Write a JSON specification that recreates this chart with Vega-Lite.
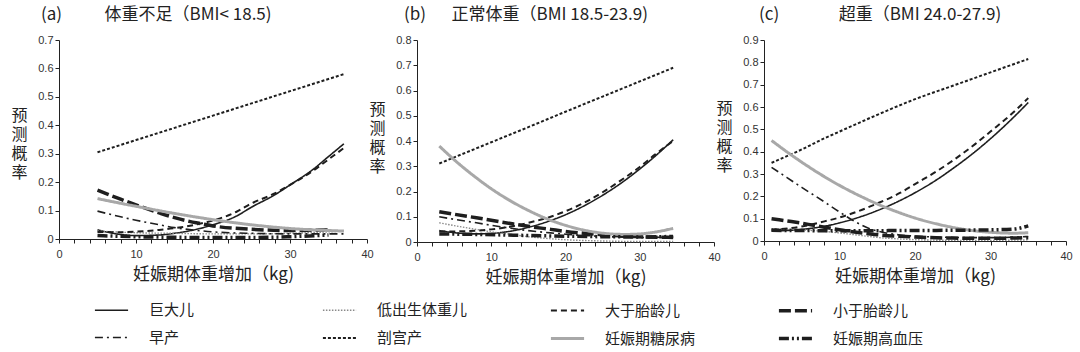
{
  "$schema": "https://vega.github.io/schema/vega-lite/v6.json",
  "padding": {"left": 10, "top": 6, "right": 5, "bottom": 0},
  "autosize": {"type": "pad"},
  "background": "white",
  "spacing": 50,
  "bounds": "flush",
  "config": {
    "view": {"stroke": null},
    "font": "Noto Sans CJK SC",
    "axis": {
      "domainColor": "#222", "tickColor": "#222", "tickSize": 4, "grid": false,
      "labelFont": "Liberation Sans", "labelFontSize": 11, "labelColor": "#333",
      "titleFont": "Noto Sans CJK SC", "titleFontSize": 17, "titleFontWeight": "normal", "titleColor": "#222",
      "labelFlush": false, "labelOverlap": false
    },
    "axisX": {"labelPadding": 5, "titlePadding": 7},
    "axisY": {"titleFont": "Liberation Sans, Noto Sans CJK SC", "titleFontSize": 16, "titleLineHeight": 19},
    "title": {"font": "Noto Sans CJK SC", "fontSize": 17, "fontWeight": "normal", "color": "#222", "anchor": "start", "frame": "group", "offset": 10},
    "legend": {
      "orient": "none", "legendX": 34, "legendY": 252, "columns": 4, "direction": "horizontal",
      "symbolType": "stroke", "symbolSize": 1100, "gridAlign": "all", "columnPadding": 75, "rowPadding": 1,
      "labelFont": "Noto Sans CJK SC", "labelFontSize": 15, "labelColor": "#222", "labelOffset": 19, "padding": 0, "labelLimit": 200
    }
  },
  "datasets": {
    "d": [
      {"p":"a","s":"巨大儿","x":5,"y":0.032},{"p":"a","s":"巨大儿","x":8,"y":0.016},{"p":"a","s":"巨大儿","x":10,"y":0.012},{"p":"a","s":"巨大儿","x":13,"y":0.014},{"p":"a","s":"巨大儿","x":15,"y":0.02},{"p":"a","s":"巨大儿","x":18,"y":0.035},{"p":"a","s":"巨大儿","x":20,"y":0.05},{"p":"a","s":"巨大儿","x":23,"y":0.08},{"p":"a","s":"巨大儿","x":25,"y":0.112},{"p":"a","s":"巨大儿","x":28,"y":0.155},{"p":"a","s":"巨大儿","x":30,"y":0.19},{"p":"a","s":"巨大儿","x":33,"y":0.245},{"p":"a","s":"巨大儿","x":35,"y":0.29},{"p":"a","s":"巨大儿","x":37,"y":0.335},
      {"p":"a","s":"低出生体重儿","x":5,"y":0.028},{"p":"a","s":"低出生体重儿","x":10,"y":0.022},{"p":"a","s":"低出生体重儿","x":15,"y":0.02},{"p":"a","s":"低出生体重儿","x":20,"y":0.018},{"p":"a","s":"低出生体重儿","x":25,"y":0.018},{"p":"a","s":"低出生体重儿","x":30,"y":0.02},{"p":"a","s":"低出生体重儿","x":35,"y":0.025},{"p":"a","s":"低出生体重儿","x":37,"y":0.028},
      {"p":"a","s":"大于胎龄儿","x":5,"y":0.025},{"p":"a","s":"大于胎龄儿","x":8,"y":0.024},{"p":"a","s":"大于胎龄儿","x":10,"y":0.026},{"p":"a","s":"大于胎龄儿","x":13,"y":0.032},{"p":"a","s":"大于胎龄儿","x":15,"y":0.038},{"p":"a","s":"大于胎龄儿","x":18,"y":0.052},{"p":"a","s":"大于胎龄儿","x":20,"y":0.065},{"p":"a","s":"大于胎龄儿","x":23,"y":0.095},{"p":"a","s":"大于胎龄儿","x":25,"y":0.125},{"p":"a","s":"大于胎龄儿","x":28,"y":0.16},{"p":"a","s":"大于胎龄儿","x":30,"y":0.19},{"p":"a","s":"大于胎龄儿","x":33,"y":0.24},{"p":"a","s":"大于胎龄儿","x":35,"y":0.28},{"p":"a","s":"大于胎龄儿","x":37,"y":0.32},
      {"p":"a","s":"小于胎龄儿","x":5,"y":0.172},{"p":"a","s":"小于胎龄儿","x":8,"y":0.14},{"p":"a","s":"小于胎龄儿","x":10,"y":0.12},{"p":"a","s":"小于胎龄儿","x":13,"y":0.092},{"p":"a","s":"小于胎龄儿","x":15,"y":0.075},{"p":"a","s":"小于胎龄儿","x":18,"y":0.056},{"p":"a","s":"小于胎龄儿","x":20,"y":0.046},{"p":"a","s":"小于胎龄儿","x":25,"y":0.034},{"p":"a","s":"小于胎龄儿","x":30,"y":0.03},{"p":"a","s":"小于胎龄儿","x":35,"y":0.032},
      {"p":"a","s":"早产","x":5,"y":0.098},{"p":"a","s":"早产","x":8,"y":0.078},{"p":"a","s":"早产","x":10,"y":0.066},{"p":"a","s":"早产","x":13,"y":0.05},{"p":"a","s":"早产","x":15,"y":0.04},{"p":"a","s":"早产","x":18,"y":0.03},{"p":"a","s":"早产","x":20,"y":0.025},{"p":"a","s":"早产","x":25,"y":0.02},{"p":"a","s":"早产","x":30,"y":0.018},{"p":"a","s":"早产","x":37,"y":0.018},
      {"p":"a","s":"剖宫产","x":5,"y":0.305},{"p":"a","s":"剖宫产","x":10,"y":0.348},{"p":"a","s":"剖宫产","x":15,"y":0.391},{"p":"a","s":"剖宫产","x":20,"y":0.434},{"p":"a","s":"剖宫产","x":25,"y":0.477},{"p":"a","s":"剖宫产","x":30,"y":0.52},{"p":"a","s":"剖宫产","x":37,"y":0.58},
      {"p":"a","s":"妊娠期糖尿病","x":5,"y":0.142},{"p":"a","s":"妊娠期糖尿病","x":10,"y":0.115},{"p":"a","s":"妊娠期糖尿病","x":15,"y":0.09},{"p":"a","s":"妊娠期糖尿病","x":20,"y":0.068},{"p":"a","s":"妊娠期糖尿病","x":25,"y":0.05},{"p":"a","s":"妊娠期糖尿病","x":30,"y":0.037},{"p":"a","s":"妊娠期糖尿病","x":37,"y":0.028},
      {"p":"a","s":"妊娠期高血压","x":5,"y":0.012},{"p":"a","s":"妊娠期高血压","x":10,"y":0.008},{"p":"a","s":"妊娠期高血压","x":15,"y":0.006},{"p":"a","s":"妊娠期高血压","x":20,"y":0.005},{"p":"a","s":"妊娠期高血压","x":25,"y":0.005},{"p":"a","s":"妊娠期高血压","x":30,"y":0.008},{"p":"a","s":"妊娠期高血压","x":35,"y":0.014},

      {"p":"b","s":"巨大儿","x":3,"y":0.045},{"p":"b","s":"巨大儿","x":5,"y":0.037},{"p":"b","s":"巨大儿","x":8,"y":0.032},{"p":"b","s":"巨大儿","x":10,"y":0.034},{"p":"b","s":"巨大儿","x":13,"y":0.045},{"p":"b","s":"巨大儿","x":15,"y":0.058},{"p":"b","s":"巨大儿","x":18,"y":0.085},{"p":"b","s":"巨大儿","x":20,"y":0.108},{"p":"b","s":"巨大儿","x":23,"y":0.151},{"p":"b","s":"巨大儿","x":25,"y":0.185},{"p":"b","s":"巨大儿","x":28,"y":0.244},{"p":"b","s":"巨大儿","x":30,"y":0.289},{"p":"b","s":"巨大儿","x":32,"y":0.338},{"p":"b","s":"巨大儿","x":34.5,"y":0.405},
      {"p":"b","s":"低出生体重儿","x":3,"y":0.076},{"p":"b","s":"低出生体重儿","x":5,"y":0.065},{"p":"b","s":"低出生体重儿","x":8,"y":0.05},{"p":"b","s":"低出生体重儿","x":10,"y":0.04},{"p":"b","s":"低出生体重儿","x":13,"y":0.029},{"p":"b","s":"低出生体重儿","x":15,"y":0.021},{"p":"b","s":"低出生体重儿","x":18,"y":0.013},{"p":"b","s":"低出生体重儿","x":20,"y":0.009},{"p":"b","s":"低出生体重儿","x":25,"y":0.004},{"p":"b","s":"低出生体重儿","x":30,"y":0.002},{"p":"b","s":"低出生体重儿","x":34.5,"y":0.002},
      {"p":"b","s":"大于胎龄儿","x":3,"y":0.042},{"p":"b","s":"大于胎龄儿","x":5,"y":0.042},{"p":"b","s":"大于胎龄儿","x":8,"y":0.045},{"p":"b","s":"大于胎龄儿","x":10,"y":0.05},{"p":"b","s":"大于胎龄儿","x":13,"y":0.063},{"p":"b","s":"大于胎龄儿","x":15,"y":0.076},{"p":"b","s":"大于胎龄儿","x":18,"y":0.1},{"p":"b","s":"大于胎龄儿","x":20,"y":0.122},{"p":"b","s":"大于胎龄儿","x":23,"y":0.163},{"p":"b","s":"大于胎龄儿","x":25,"y":0.197},{"p":"b","s":"大于胎龄儿","x":28,"y":0.255},{"p":"b","s":"大于胎龄儿","x":30,"y":0.297},{"p":"b","s":"大于胎龄儿","x":32,"y":0.345},{"p":"b","s":"大于胎龄儿","x":34.5,"y":0.4},
      {"p":"b","s":"小于胎龄儿","x":3,"y":0.12},{"p":"b","s":"小于胎龄儿","x":5,"y":0.11},{"p":"b","s":"小于胎龄儿","x":8,"y":0.096},{"p":"b","s":"小于胎龄儿","x":10,"y":0.086},{"p":"b","s":"小于胎龄儿","x":13,"y":0.071},{"p":"b","s":"小于胎龄儿","x":15,"y":0.062},{"p":"b","s":"小于胎龄儿","x":18,"y":0.05},{"p":"b","s":"小于胎龄儿","x":20,"y":0.042},{"p":"b","s":"小于胎龄儿","x":25,"y":0.029},{"p":"b","s":"小于胎龄儿","x":30,"y":0.021},{"p":"b","s":"小于胎龄儿","x":34.5,"y":0.018},
      {"p":"b","s":"早产","x":3,"y":0.1},{"p":"b","s":"早产","x":5,"y":0.09},{"p":"b","s":"早产","x":8,"y":0.076},{"p":"b","s":"早产","x":10,"y":0.066},{"p":"b","s":"早产","x":13,"y":0.053},{"p":"b","s":"早产","x":15,"y":0.045},{"p":"b","s":"早产","x":18,"y":0.036},{"p":"b","s":"早产","x":20,"y":0.031},{"p":"b","s":"早产","x":25,"y":0.022},{"p":"b","s":"早产","x":30,"y":0.018},{"p":"b","s":"早产","x":34.5,"y":0.02},
      {"p":"b","s":"剖宫产","x":3,"y":0.311},{"p":"b","s":"剖宫产","x":10,"y":0.395},{"p":"b","s":"剖宫产","x":15,"y":0.455},{"p":"b","s":"剖宫产","x":20,"y":0.516},{"p":"b","s":"剖宫产","x":25,"y":0.576},{"p":"b","s":"剖宫产","x":30,"y":0.636},{"p":"b","s":"剖宫产","x":34.5,"y":0.69},
      {"p":"b","s":"妊娠期糖尿病","x":3,"y":0.38},{"p":"b","s":"妊娠期糖尿病","x":5,"y":0.326},{"p":"b","s":"妊娠期糖尿病","x":8,"y":0.254},{"p":"b","s":"妊娠期糖尿病","x":10,"y":0.211},{"p":"b","s":"妊娠期糖尿病","x":13,"y":0.156},{"p":"b","s":"妊娠期糖尿病","x":15,"y":0.125},{"p":"b","s":"妊娠期糖尿病","x":18,"y":0.086},{"p":"b","s":"妊娠期糖尿病","x":20,"y":0.066},{"p":"b","s":"妊娠期糖尿病","x":23,"y":0.044},{"p":"b","s":"妊娠期糖尿病","x":25,"y":0.035},{"p":"b","s":"妊娠期糖尿病","x":28,"y":0.03},{"p":"b","s":"妊娠期糖尿病","x":30,"y":0.032},{"p":"b","s":"妊娠期糖尿病","x":32,"y":0.039},{"p":"b","s":"妊娠期糖尿病","x":34.5,"y":0.054},
      {"p":"b","s":"妊娠期高血压","x":3,"y":0.032},{"p":"b","s":"妊娠期高血压","x":8,"y":0.03},{"p":"b","s":"妊娠期高血压","x":13,"y":0.027},{"p":"b","s":"妊娠期高血压","x":20,"y":0.023},{"p":"b","s":"妊娠期高血压","x":25,"y":0.021},{"p":"b","s":"妊娠期高血压","x":30,"y":0.02},{"p":"b","s":"妊娠期高血压","x":34.5,"y":0.022},

      {"p":"c","s":"巨大儿","x":1,"y":0.045},{"p":"c","s":"巨大儿","x":5,"y":0.052},{"p":"c","s":"巨大儿","x":8,"y":0.066},{"p":"c","s":"巨大儿","x":10,"y":0.081},{"p":"c","s":"巨大儿","x":13,"y":0.111},{"p":"c","s":"巨大儿","x":15,"y":0.136},{"p":"c","s":"巨大儿","x":18,"y":0.181},{"p":"c","s":"巨大儿","x":20,"y":0.216},{"p":"c","s":"巨大儿","x":23,"y":0.277},{"p":"c","s":"巨大儿","x":25,"y":0.324},{"p":"c","s":"巨大儿","x":28,"y":0.401},{"p":"c","s":"巨大儿","x":30,"y":0.458},{"p":"c","s":"巨大儿","x":33,"y":0.552},{"p":"c","s":"巨大儿","x":35,"y":0.62},
      {"p":"c","s":"低出生体重儿","x":1,"y":0.055},{"p":"c","s":"低出生体重儿","x":5,"y":0.05},{"p":"c","s":"低出生体重儿","x":8,"y":0.043},{"p":"c","s":"低出生体重儿","x":10,"y":0.036},{"p":"c","s":"低出生体重儿","x":13,"y":0.024},{"p":"c","s":"低出生体重儿","x":15,"y":0.016},{"p":"c","s":"低出生体重儿","x":18,"y":0.009},{"p":"c","s":"低出生体重儿","x":20,"y":0.006},{"p":"c","s":"低出生体重儿","x":25,"y":0.003},{"p":"c","s":"低出生体重儿","x":30,"y":0.003},{"p":"c","s":"低出生体重儿","x":35,"y":0.005},
      {"p":"c","s":"大于胎龄儿","x":1,"y":0.05},{"p":"c","s":"大于胎龄儿","x":5,"y":0.065},{"p":"c","s":"大于胎龄儿","x":8,"y":0.088},{"p":"c","s":"大于胎龄儿","x":10,"y":0.105},{"p":"c","s":"大于胎龄儿","x":13,"y":0.14},{"p":"c","s":"大于胎龄儿","x":15,"y":0.168},{"p":"c","s":"大于胎龄儿","x":18,"y":0.215},{"p":"c","s":"大于胎龄儿","x":20,"y":0.255},{"p":"c","s":"大于胎龄儿","x":23,"y":0.315},{"p":"c","s":"大于胎龄儿","x":25,"y":0.36},{"p":"c","s":"大于胎龄儿","x":28,"y":0.435},{"p":"c","s":"大于胎龄儿","x":30,"y":0.49},{"p":"c","s":"大于胎龄儿","x":33,"y":0.575},{"p":"c","s":"大于胎龄儿","x":35,"y":0.64},
      {"p":"c","s":"小于胎龄儿","x":1,"y":0.1},{"p":"c","s":"小于胎龄儿","x":3,"y":0.09},{"p":"c","s":"小于胎龄儿","x":5,"y":0.08},{"p":"c","s":"小于胎龄儿","x":8,"y":0.062},{"p":"c","s":"小于胎龄儿","x":10,"y":0.05},{"p":"c","s":"小于胎龄儿","x":13,"y":0.036},{"p":"c","s":"小于胎龄儿","x":15,"y":0.028},{"p":"c","s":"小于胎龄儿","x":18,"y":0.021},{"p":"c","s":"小于胎龄儿","x":20,"y":0.018},{"p":"c","s":"小于胎龄儿","x":25,"y":0.013},{"p":"c","s":"小于胎龄儿","x":30,"y":0.012},{"p":"c","s":"小于胎龄儿","x":35,"y":0.015},
      {"p":"c","s":"早产","x":1,"y":0.33},{"p":"c","s":"早产","x":3,"y":0.285},{"p":"c","s":"早产","x":5,"y":0.24},{"p":"c","s":"早产","x":8,"y":0.175},{"p":"c","s":"早产","x":10,"y":0.13},{"p":"c","s":"早产","x":12,"y":0.088},{"p":"c","s":"早产","x":14,"y":0.055},{"p":"c","s":"早产","x":16,"y":0.037},{"p":"c","s":"早产","x":18,"y":0.027},{"p":"c","s":"早产","x":20,"y":0.022},{"p":"c","s":"早产","x":25,"y":0.016},{"p":"c","s":"早产","x":30,"y":0.015},{"p":"c","s":"早产","x":35,"y":0.02},
      {"p":"c","s":"剖宫产","x":1,"y":0.35},{"p":"c","s":"剖宫产","x":5,"y":0.41},{"p":"c","s":"剖宫产","x":8,"y":0.46},{"p":"c","s":"剖宫产","x":10,"y":0.49},{"p":"c","s":"剖宫产","x":15,"y":0.565},{"p":"c","s":"剖宫产","x":20,"y":0.635},{"p":"c","s":"剖宫产","x":25,"y":0.695},{"p":"c","s":"剖宫产","x":30,"y":0.755},{"p":"c","s":"剖宫产","x":35,"y":0.815},
      {"p":"c","s":"妊娠期糖尿病","x":1,"y":0.45},{"p":"c","s":"妊娠期糖尿病","x":3,"y":0.4},{"p":"c","s":"妊娠期糖尿病","x":5,"y":0.353},{"p":"c","s":"妊娠期糖尿病","x":8,"y":0.288},{"p":"c","s":"妊娠期糖尿病","x":10,"y":0.249},{"p":"c","s":"妊娠期糖尿病","x":13,"y":0.197},{"p":"c","s":"妊娠期糖尿病","x":15,"y":0.166},{"p":"c","s":"妊娠期糖尿病","x":18,"y":0.126},{"p":"c","s":"妊娠期糖尿病","x":20,"y":0.103},{"p":"c","s":"妊娠期糖尿病","x":23,"y":0.0755},{"p":"c","s":"妊娠期糖尿病","x":25,"y":0.061},{"p":"c","s":"妊娠期糖尿病","x":28,"y":0.045},{"p":"c","s":"妊娠期糖尿病","x":30,"y":0.039},{"p":"c","s":"妊娠期糖尿病","x":33,"y":0.035},{"p":"c","s":"妊娠期糖尿病","x":35,"y":0.037},
      {"p":"c","s":"妊娠期高血压","x":1,"y":0.048},{"p":"c","s":"妊娠期高血压","x":10,"y":0.046},{"p":"c","s":"妊娠期高血压","x":20,"y":0.047},{"p":"c","s":"妊娠期高血压","x":25,"y":0.048},{"p":"c","s":"妊娠期高血压","x":30,"y":0.05},{"p":"c","s":"妊娠期高血压","x":33,"y":0.053},{"p":"c","s":"妊娠期高血压","x":35,"y":0.068}
    ]
  },
  "hconcat": [
    {
      "width": 308, "height": 199,
      "title": {"text": "(a)\u3000\u3000\u2002体重不足（BMI< 18.5)", "dx": -18},
      "data": {"name": "d"},
      "transform": [{"filter": "datum.p === 'a'"}],
      "mark": {"type": "line", "interpolate": "monotone"},
      "encoding": {
        "x": {"field": "x", "type": "quantitative", "scale": {"domain": [0, 40]}, "axis": {"values": [0,2,4,6,8,10,12,14,16,18,20,22,24,26,28,30,32,34,36,38,40], "labelExpr": "datum.value % 10 === 0 ? datum.label : ''", "title": "妊娠期体重增加（kg)"}},
        "y": {"field": "y", "type": "quantitative", "scale": {"domain": [0, 0.7]}, "axis": {"values": [0,0.1,0.2,0.3,0.4,0.5,0.6,0.7], "format": "~g", "title": ["预","测","概","率"], "titleAngle": 0, "titleAlign": "center", "titleBaseline": "middle", "titleX": -40, "titleY": 75}},
        "color": {"field": "s", "type": "nominal", "scale": {"domain": ["巨大儿","低出生体重儿","大于胎龄儿","小于胎龄儿","早产","剖宫产","妊娠期糖尿病","妊娠期高血压"], "range": ["#1e1e1e","#8a8a8a","#1e1e1e","#1e1e1e","#1e1e1e","#1e1e1e","#a8a8a8","#1e1e1e"]}, "legend": {"title": null}},
        "strokeDash": {"field": "s", "type": "nominal", "scale": {"domain": ["巨大儿","低出生体重儿","大于胎龄儿","小于胎龄儿","早产","剖宫产","妊娠期糖尿病","妊娠期高血压"], "range": [[1,0],[1.5,1.5],[6,4],[12,4],[8,4,2,4],[3,2],[1,0],[10,3,2,3,2,3]]}, "legend": {"title": null}},
        "strokeWidth": {"field": "s", "type": "nominal", "scale": {"type": "ordinal", "domain": ["巨大儿","低出生体重儿","大于胎龄儿","小于胎龄儿","早产","剖宫产","妊娠期糖尿病","妊娠期高血压"], "range": [1.6,1.4,2,3.5,1.6,2,3,3.5]}, "legend": {"title": null}}
      }
    },
    {
      "width": 297, "height": 202,
      "title": {"text": "(b)\u3000\u2002正常体重（BMI 18.5-23.9)", "dx": -13},
      "data": {"name": "d"},
      "transform": [{"filter": "datum.p === 'b'"}],
      "mark": {"type": "line", "interpolate": "monotone"},
      "encoding": {
        "x": {"field": "x", "type": "quantitative", "scale": {"domain": [0, 40]}, "axis": {"values": [0,2,4,6,8,10,12,14,16,18,20,22,24,26,28,30,32,34,36,38,40], "labelExpr": "datum.value % 10 === 0 ? datum.label : ''", "title": "妊娠期体重增加（kg)"}},
        "y": {"field": "y", "type": "quantitative", "scale": {"domain": [0, 0.8]}, "axis": {"values": [0,0.1,0.2,0.3,0.4,0.5,0.6,0.7,0.8], "format": "~g", "title": ["预","测","概","率"], "titleAngle": 0, "titleAlign": "center", "titleBaseline": "middle", "titleX": -40, "titleY": 69}},
        "color": {"field": "s", "type": "nominal", "scale": {"domain": ["巨大儿","低出生体重儿","大于胎龄儿","小于胎龄儿","早产","剖宫产","妊娠期糖尿病","妊娠期高血压"], "range": ["#1e1e1e","#8a8a8a","#1e1e1e","#1e1e1e","#1e1e1e","#1e1e1e","#a8a8a8","#1e1e1e"]}, "legend": {"title": null}},
        "strokeDash": {"field": "s", "type": "nominal", "scale": {"domain": ["巨大儿","低出生体重儿","大于胎龄儿","小于胎龄儿","早产","剖宫产","妊娠期糖尿病","妊娠期高血压"], "range": [[1,0],[1.5,1.5],[6,4],[12,4],[8,4,2,4],[3,2],[1,0],[10,3,2,3,2,3]]}, "legend": {"title": null}},
        "strokeWidth": {"field": "s", "type": "nominal", "scale": {"type": "ordinal", "domain": ["巨大儿","低出生体重儿","大于胎龄儿","小于胎龄儿","早产","剖宫产","妊娠期糖尿病","妊娠期高血压"], "range": [1.6,1.4,2,3.5,1.6,2,3,3.5]}, "legend": {"title": null}}
      }
    },
    {
      "width": 302, "height": 201,
      "title": {"text": "(c)\u3000\u3000\u3000\u2002超重（BMI 24.0-27.9)", "dx": -5},
      "data": {"name": "d"},
      "transform": [{"filter": "datum.p === 'c'"}],
      "mark": {"type": "line", "interpolate": "monotone"},
      "encoding": {
        "x": {"field": "x", "type": "quantitative", "scale": {"domain": [0, 40]}, "axis": {"values": [0,2,4,6,8,10,12,14,16,18,20,22,24,26,28,30,32,34,36,38,40], "labelExpr": "datum.value % 10 === 0 ? datum.label : ''", "title": "妊娠期体重增加（kg)"}},
        "y": {"field": "y", "type": "quantitative", "scale": {"domain": [0, 0.9]}, "axis": {"values": [0,0.1,0.2,0.3,0.4,0.5,0.6,0.7,0.8,0.9], "format": "~g", "title": ["预","测","概","率"], "titleAngle": 0, "titleAlign": "center", "titleBaseline": "middle", "titleX": -40, "titleY": 68}},
        "color": {"field": "s", "type": "nominal", "scale": {"domain": ["巨大儿","低出生体重儿","大于胎龄儿","小于胎龄儿","早产","剖宫产","妊娠期糖尿病","妊娠期高血压"], "range": ["#1e1e1e","#8a8a8a","#1e1e1e","#1e1e1e","#1e1e1e","#1e1e1e","#a8a8a8","#1e1e1e"]}, "legend": {"title": null}},
        "strokeDash": {"field": "s", "type": "nominal", "scale": {"domain": ["巨大儿","低出生体重儿","大于胎龄儿","小于胎龄儿","早产","剖宫产","妊娠期糖尿病","妊娠期高血压"], "range": [[1,0],[1.5,1.5],[6,4],[12,4],[8,4,2,4],[3,2],[1,0],[10,3,2,3,2,3]]}, "legend": {"title": null}},
        "strokeWidth": {"field": "s", "type": "nominal", "scale": {"type": "ordinal", "domain": ["巨大儿","低出生体重儿","大于胎龄儿","小于胎龄儿","早产","剖宫产","妊娠期糖尿病","妊娠期高血压"], "range": [1.6,1.4,2,3.5,1.6,2,3,3.5]}, "legend": {"title": null}}
      }
    }
  ]
}
